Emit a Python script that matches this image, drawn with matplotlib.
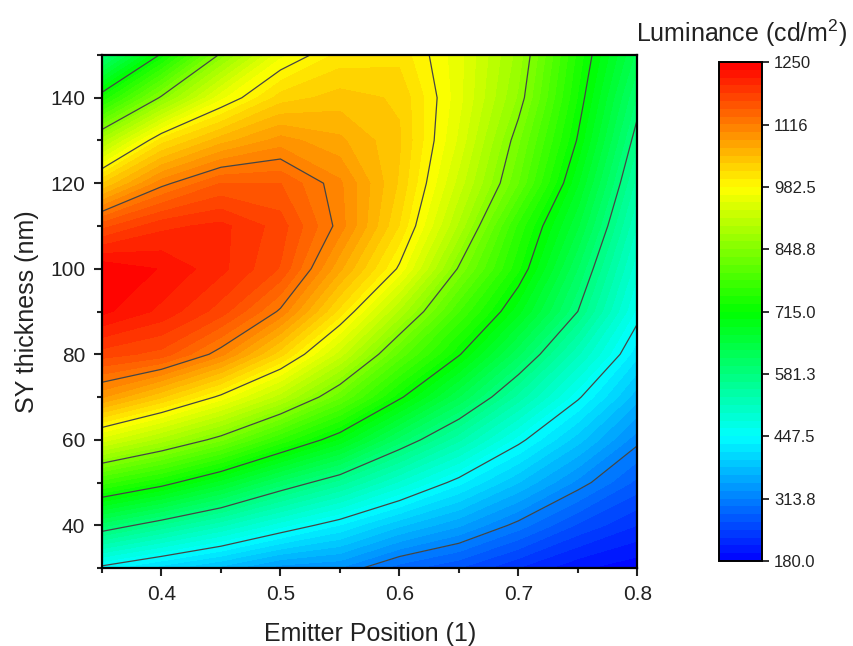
import numpy as np
from matplotlib import pyplot as plt
from matplotlib.colors import LinearSegmentedColormap

plt.rcParams['font.family'] = ['Liberation Sans', 'DejaVu Sans']
plt.rcParams['mathtext.default'] = 'regular'

# emitter position (columns) and SY thickness (rows)
emitter_pos = [0.35, 0.40, 0.45, 0.50, 0.55, 0.60, 0.65, 0.70, 0.75, 0.80]
sy_thickness = [30, 40, 50, 60, 70, 80, 90, 100, 110, 120, 130, 140, 150]

# luminance (cd/m2), one row per SY thickness
luminance = [
    [439, 405, 374, 338, 330, 288, 264, 230, 200, 185],
    [605, 561, 518, 471, 430, 384, 350, 306, 261, 230],
    [773, 730, 673, 608, 556, 494, 436, 381, 325, 275],
    [941, 891, 836, 762, 694, 607, 535, 456, 388, 320],
    [1085, 1035, 976, 906, 818, 721, 631, 541, 452, 370],
    [1175, 1160, 1105, 1023, 923, 809, 718, 618, 517, 419],
    [1238, 1212, 1175, 1112, 1010, 895, 782, 687, 581, 459],
    [1248, 1232, 1205, 1165, 1070, 978, 845, 735, 614, 486],
    [1160, 1195, 1205, 1175, 1108, 1015, 895, 760, 650, 513],
    [1031, 1109, 1150, 1150, 1103, 1030, 925, 815, 683, 540],
    [889, 1008, 1059, 1090, 1070, 1035, 945, 835, 712, 567],
    [733, 854, 960, 1024, 1040, 1030, 955, 862, 730, 595],
    [590, 720, 855, 960, 1005, 1010, 955, 875, 743, 625],
]

cbar_ticks = [180.0, 313.8, 447.5, 581.3, 715.0, 848.8, 982.5, 1116, 1250]
cbar_labels = ['180.0', '313.8', '447.5', '581.3', '715.0', '848.8', '982.5', '1116', '1250']

# origin style rainbow palette
rainbow = LinearSegmentedColormap.from_list(
    'origin_rainbow', ['#0000ff', '#00ffff', '#00ff00', '#ffff00', '#ff0000'])

X, Y = np.meshgrid(emitter_pos, sy_thickness)
Z = np.array(luminance, dtype=float)

fill_levels = np.linspace(cbar_ticks[0], cbar_ticks[-1], 65)
line_levels = cbar_ticks[1:-1]

fig = plt.figure(figsize=(8.54, 6.46), dpi=100)
ax = fig.add_axes([0.1194, 0.1207, 0.627, 0.7942])

cf = ax.contourf(X, Y, Z, levels=fill_levels, cmap=rainbow, vmin=180, vmax=1250)
ax.contour(X, Y, Z, levels=line_levels, colors='#454545', linewidths=0.9)

ax.set_xlim(0.35, 0.8)
ax.set_ylim(30, 150)
ax.set_xticks([0.4, 0.5, 0.6, 0.7, 0.8])
ax.set_xticks([0.35, 0.45, 0.55, 0.65, 0.75], minor=True)
ax.set_yticks([40, 60, 80, 100, 120, 140])
ax.set_yticks([30, 50, 70, 90, 110, 130, 150], minor=True)
ax.tick_params(which='both', direction='out', width=1.5, labelsize=15, colors='#222222')
ax.tick_params(which='major', length=6, pad=6)
ax.tick_params(which='minor', length=3.5)
for sp in ax.spines.values():
    sp.set_linewidth(1.6)

ax.set_xlabel('Emitter Position (1)', fontsize=18, color='#222222', labelpad=13)
ax.set_ylabel('SY thickness (nm)', fontsize=18, color='#222222', labelpad=8)

##############################################  colour scale

cax = fig.add_axes([0.842, 0.1316, 0.0504, 0.7724])
cb = fig.colorbar(cf, cax=cax, ticks=cbar_ticks)
cb.ax.set_yticklabels(cbar_labels)
cb.ax.tick_params(direction='out', length=5, width=1.3, labelsize=12, colors='#222222')
cb.outline.set_linewidth(1.4)
cb.ax.minorticks_off()

fig.text(0.868, 0.948, 'Luminance (cd/m$^2$)', ha='center', va='center',
         fontsize=18, color='#222222')

plt.savefig('out.png', dpi=100)
